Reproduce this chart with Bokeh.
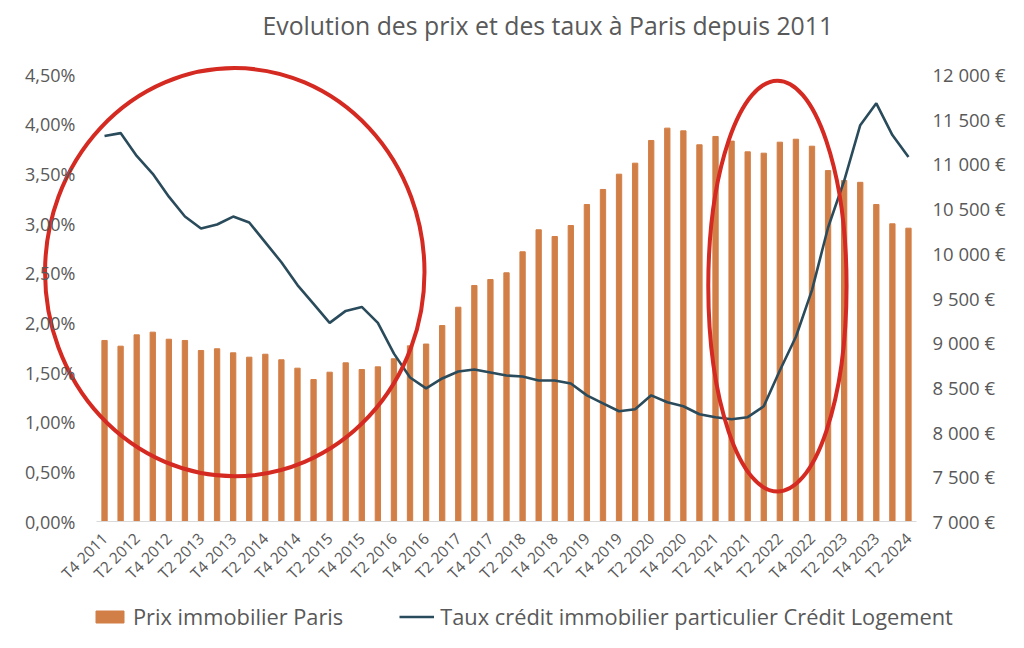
import math
from bokeh.plotting import figure
from bokeh.models import (Range1d, LinearAxis, FixedTicker, Legend, LegendItem, Label)
from bokeh.embed import file_html
from bokeh.resources import INLINE

# ---- data ----
quarters = []
for yr in range(2011, 2025):
    for q in range(1, 5):
        if (yr == 2011 and q < 4) or (yr == 2024 and q > 2):
            continue
        quarters.append(f"T{q} {yr}")

prix = [9025, 8961, 9088, 9118, 9039, 9025, 8913, 8932, 8887, 8838,
        8871, 8809, 8715, 8588, 8670, 8775, 8700, 8730, 8820, 8965,
        8985, 9192, 9397, 9640, 9707, 9782, 10017, 10263, 10188, 10311,
        10546, 10714, 10885, 11008, 11262, 11400, 11370, 11214, 11307, 11255,
        11135, 11120, 11243, 11276, 11198, 10925, 10814, 10794, 10546, 10330,
        10281]

taux = [3.88, 3.91, 3.68, 3.50, 3.27, 3.07, 2.95, 2.99, 3.07, 3.01,
        2.81, 2.61, 2.38, 2.19, 2.00, 2.12, 2.16, 2.00, 1.69, 1.45,
        1.34, 1.44, 1.51, 1.53, 1.50, 1.47, 1.46, 1.42, 1.42, 1.39,
        1.27, 1.19, 1.11, 1.13, 1.27, 1.20, 1.16, 1.08, 1.05, 1.03,
        1.05, 1.16, 1.52, 1.86, 2.33, 2.96, 3.43, 3.99, 4.21, 3.89,
        3.67]

pct_ticks = [0, 0.5, 1.0, 1.5, 2.0, 2.5, 3.0, 3.5, 4.0, 4.5]
pct_labels = ["0,00%", "0,50%", "1,00%", "1,50%", "2,00%", "2,50%",
              "3,00%", "3,50%", "4,00%", "4,50%"]
eur_ticks = [7000, 7500, 8000, 8500, 9000, 9500, 10000, 10500, 11000, 11500, 12000]
eur_labels = ["7\u00a0000 €", "7\u00a0500 €", "8\u00a0000 €", "8\u00a0500 €",
              "9\u00a0000 €", "9\u00a0500 €", "10\u00a0000 €", "10\u00a0500 €",
              "11\u00a0000 €", "11\u00a0500 €", "12\u00a0000 €"]

# highlight annotations (hand-drawn red ellipses): centre index, centre %, width (quarters), height (%)
hl_x = [8.1, 41.85]
hl_y = [2.51, 2.37]
hl_w = [23.6, 8.6]
hl_h = [4.11, 4.14]

title_text = "Evolution des prix et des taux à Paris depuis 2011"
legend_labels = ["Prix immobilier Paris",
                 "Taux crédit immobilier particulier Crédit Logement"]

# ---- style / layout (pixel geometry of the picture) ----
FONT = "Open Sans"
GREY = "#595959"
BAR = "#D27F47"
LINE = "#2A4B5B"

W, H = 1012, 640
PX_PER_Q = 16.08           # horizontal pixels per quarter
BARS_L, BARS_R = 96, 916   # plot area of the bars
BASE_Y, TOP_Y = 521, 74    # pixel rows of 0 % and 4,50 %
PX_PER_PCT = (BASE_Y - TOP_Y) / 4.5

idx = list(range(len(quarters)))
n = len(quarters)
x_start = -0.5 - BARS_L / PX_PER_Q
x_end = n - 0.5 + (W - BARS_R) / PX_PER_Q
y_end = BASE_Y / PX_PER_PCT
y_start = -(H - BASE_Y) / PX_PER_PCT
eur_per_pct = 5000 / 4.5

p = figure(width=W, height=H, output_backend="svg", toolbar_location=None,
           x_range=Range1d(x_start, x_end),
           y_range=Range1d(y_start, y_end),
           min_border=0)
p.extra_y_ranges = {"eur": Range1d(7000 + y_start * eur_per_pct,
                                   7000 + y_end * eur_per_pct)}
p.outline_line_color = None
p.grid.visible = False
p.background_fill_color = "white"
p.border_fill_color = "white"

bars = p.vbar(x=idx, top=prix, bottom=7000, width=0.33, color=BAR,
              y_range_name="eur")
line = p.line(x=idx, y=taux, line_color=LINE, line_width=2.6)

p.ellipse(x=hl_x, y=hl_y, width=hl_w, height=hl_h, fill_color=None,
          line_color="#D42A22", line_width=4)

# axes (pinned inside the frame with fixed_location)
xax = p.xaxis[0]
xax.ticker = FixedTicker(ticks=idx[::2])
xax.major_label_overrides = {i: quarters[i] for i in idx[::2]}
xax.major_label_orientation = math.pi / 4
xax.fixed_location = 0
xax.bounds = (-0.5, n - 0.5)
xax.major_tick_line_color = None
xax.minor_tick_line_color = None
xax.major_tick_out = 0
xax.major_tick_in = 0
xax.axis_line_color = "#D9D9D9"
xax.major_label_text_font = FONT
xax.major_label_text_font_size = "15.5px"
xax.major_label_text_color = GREY
xax.major_label_standoff = 14

yax = p.yaxis[0]
yax.ticker = FixedTicker(ticks=pct_ticks)
yax.major_label_overrides = dict(zip(pct_ticks, pct_labels))
yax.fixed_location = x_start + 80 / PX_PER_Q
yax.axis_line_color = None
yax.major_tick_line_color = None
yax.minor_tick_line_color = None
yax.major_tick_out = 0
yax.major_tick_in = 0
yax.major_label_text_font = FONT
yax.major_label_text_font_size = "18px"
yax.major_label_text_color = GREY
yax.major_label_standoff = 5

rax = LinearAxis(y_range_name="eur", ticker=FixedTicker(ticks=eur_ticks))
rax.major_label_overrides = dict(zip(eur_ticks, eur_labels))
rax.fixed_location = n - 0.5
rax.axis_line_color = None
rax.major_tick_line_color = None
rax.minor_tick_line_color = None
rax.major_tick_out = 0
rax.major_tick_in = 0
rax.major_label_text_font = FONT
rax.major_label_text_font_size = "18.5px"
rax.major_label_text_color = GREY
rax.major_label_standoff = 16
p.add_layout(rax, "right")

title = Label(x=x_start + 262 / PX_PER_Q, y=(BASE_Y - 24) / PX_PER_PCT,
              text=title_text, text_align="left", text_baseline="middle",
              text_font=FONT, text_font_size="24.8px", text_color=GREY)
p.add_layout(title)

legend = Legend(items=[LegendItem(label=legend_labels[0], renderers=[bars]),
                       LegendItem(label=legend_labels[1], renderers=[line])],
                orientation="horizontal", location=(92, 9),
                label_text_font=FONT, label_text_font_size="21.8px",
                label_text_color=GREY, glyph_width=35, glyph_height=15,
                label_standoff=6, spacing=56, padding=0, margin=0,
                border_line_color=None, background_fill_alpha=0)
p.add_layout(legend, "center")

open("out.html", "w").write(file_html(p, INLINE))
